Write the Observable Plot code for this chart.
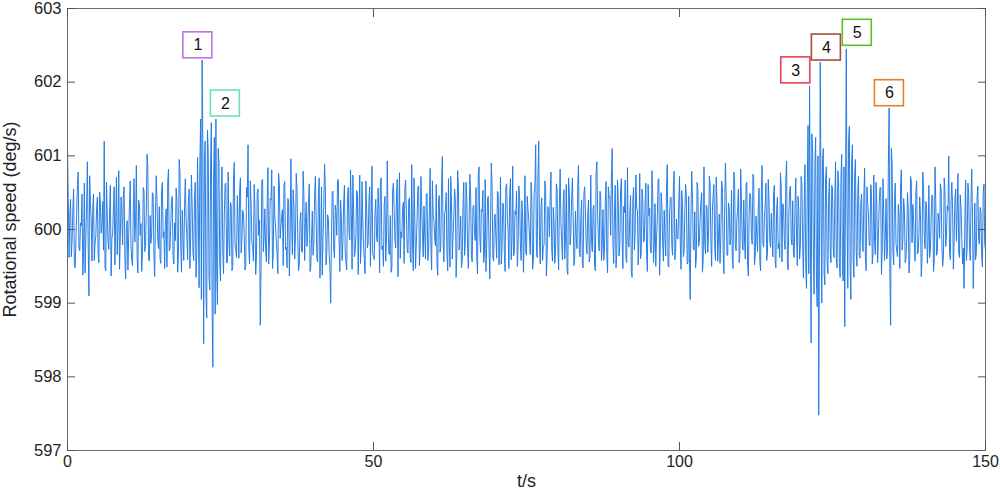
<!DOCTYPE html>
<html><head><meta charset="utf-8">
<script src="https://cdn.jsdelivr.net/npm/d3@7"></script>
<script src="https://cdn.jsdelivr.net/npm/@observablehq/plot@0.6"></script>
<style>body{margin:0;background:#fff}</style>
</head><body><div id="chart"></div>
<script>
// sampling interval of the recorded speed (s)
const sampleInterval = 0.125;
// rotational speed (deg/s) at t = 0, 0.25, 0.5, ... s
const speedEven = [
601.10,599.62,600.41,599.85,600.55,599.48,600.22,600.78,599.71,600.05,599.38,600.63,599.90,600.92,599.10,600.34,599.57,600.48,599.80,600.27,
599.66,600.51,599.95,600.38,601.20,599.44,600.17,599.73,600.60,599.88,600.29,599.52,600.71,600.02,599.46,600.44,599.79,600.58,599.33,600.12,
599.91,600.66,599.58,600.24,599.83,600.87,599.41,600.35,600.08,599.69,600.53,599.77,601.02,599.60,600.19,599.94,600.47,599.36,600.73,599.85,
600.31,599.54,600.64,599.97,600.15,599.49,600.82,599.74,600.40,599.63,600.09,600.56,599.42,600.95,599.81,600.26,599.58,600.69,599.90,600.37,
599.47,600.74,599.68,600.43,599.35,600.98,599.21,601.50,602.30,598.45,601.20,598.80,601.02,599.18,601.45,598.13,601.25,601.50,598.98,600.90,
599.30,600.85,599.40,600.62,599.55,600.78,599.64,600.33,599.50,600.91,599.72,600.46,599.61,600.70,599.86,600.22,599.45,600.57,601.15,599.53,
600.36,599.78,600.61,599.39,600.49,599.92,598.70,600.67,599.70,600.28,599.56,600.84,599.83,600.40,599.47,600.59,600.03,599.65,600.76,599.88,
600.18,599.51,600.65,599.76,600.42,599.37,600.96,599.66,600.30,599.89,600.54,599.44,600.13,599.71,600.79,599.58,600.37,599.95,600.62,599.49,
600.25,599.80,600.72,599.60,600.45,599.34,600.58,599.87,600.89,599.52,600.20,599.67,599.00,600.50,599.73,600.33,599.92,600.68,599.43,600.16,
599.84,600.60,599.55,600.41,599.96,600.81,599.46,600.27,599.69,600.53,599.39,600.74,599.82,600.11,599.59,600.66,599.75,600.38,599.50,600.86,
599.63,600.23,599.90,600.56,599.41,600.70,599.78,600.35,599.57,600.93,599.68,600.19,599.48,600.63,599.85,600.44,599.36,600.77,599.97,600.29,
599.54,600.67,599.74,600.39,599.62,600.88,599.44,600.14,599.81,600.58,599.51,600.72,599.93,600.32,599.60,600.49,599.70,600.83,599.45,600.21,
599.87,600.61,599.38,600.46,599.76,600.99,599.56,600.26,599.66,600.69,599.49,600.37,599.91,600.55,599.35,600.80,599.72,600.18,599.58,600.64,
599.83,600.42,599.47,600.75,599.64,600.30,599.94,600.57,599.40,600.85,599.69,600.24,599.55,600.68,599.79,600.45,599.33,600.90,599.61,600.16,
599.89,600.52,599.52,600.71,599.75,600.34,599.43,600.62,599.97,600.47,599.59,600.86,599.67,600.20,599.50,600.59,599.80,600.39,599.42,600.73,
599.65,600.28,599.86,600.64,599.46,600.50,601.15,599.62,601.20,599.53,600.43,599.77,600.66,599.37,600.31,599.90,600.78,599.57,600.12,599.71,
600.55,599.45,600.82,599.84,600.36,599.60,600.61,599.39,600.48,599.95,600.70,599.51,600.25,599.74,600.87,599.63,600.40,599.48,600.58,599.82,
600.17,599.56,600.74,599.70,600.33,599.44,600.92,599.88,600.52,599.58,600.27,599.73,600.65,599.41,600.44,599.92,601.10,599.54,600.60,599.66,
600.37,599.80,600.69,599.47,600.23,599.61,600.84,599.76,600.46,599.35,600.57,599.93,600.29,599.52,600.76,599.68,600.41,599.86,600.63,599.43,
600.19,599.72,600.80,599.55,600.35,599.90,600.67,599.38,600.50,599.81,600.26,599.64,600.88,599.49,600.43,599.77,600.59,599.59,600.14,599.87,
600.72,599.46,600.32,599.69,600.61,599.53,600.45,599.05,600.79,599.74,600.24,599.61,600.54,599.84,600.38,599.42,600.85,599.67,600.30,599.95,
600.63,599.50,600.47,599.78,600.71,599.57,600.21,599.89,600.58,599.40,600.90,599.65,600.36,599.79,600.53,599.47,600.66,599.71,600.27,599.55,
600.82,599.83,600.40,599.60,600.64,599.37,600.49,599.92,600.75,599.52,600.18,599.70,600.56,599.44,600.87,599.76,600.33,599.58,600.68,599.85,
600.22,599.63,600.60,599.48,600.44,599.81,600.77,599.56,600.31,599.73,600.93,599.45,600.52,599.88,600.39,599.62,600.70,599.51,600.25,599.78,
600.62,599.34,600.88,599.20,601.41,601.95,598.46,601.05,599.12,601.25,598.95,597.48,602.27,599.00,601.10,599.25,600.85,599.40,600.70,599.55,
600.55,599.62,600.92,599.48,600.66,599.35,601.02,599.30,598.68,602.45,599.20,601.40,599.05,601.15,599.35,600.95,599.50,600.72,599.61,600.48,
599.70,600.83,599.44,600.36,599.79,600.61,599.53,600.74,599.66,600.28,599.90,600.57,599.39,600.69,599.58,600.42,599.75,601.65,598.70,600.88,
599.52,600.63,599.71,600.34,599.47,600.81,599.86,600.26,599.60,600.50,599.41,600.72,599.82,600.15,599.57,600.66,599.69,600.44,599.36,600.78,
599.91,600.38,599.54,600.60,599.73,600.47,599.43,600.85,599.65,600.22,599.88,600.55,599.50,600.70,599.77,600.32,601.00,599.59,600.64,599.46,
600.41,599.84,600.76,599.62,600.29,599.53,599.20,600.67,599.74,600.48,599.58,600.82,599.20,600.36,599.67,600.59,599.80,600.25,599.49,600.62,
599.72
];
// rotational speed (deg/s) at t = 0.125, 0.375, 0.625, ... s
const speedOdd = [
600.42,600.18,599.63,600.27,599.52,599.86,600.61,599.74,600.09,600.48,599.69,599.41,600.35,599.80,600.73,600.12,600.30,599.58,599.91,600.44,
599.55,600.36,600.08,599.72,599.49,600.64,599.83,600.21,599.37,599.94,600.58,600.15,599.66,600.80,599.88,600.26,600.47,599.60,600.03,599.45,
600.33,599.78,599.51,600.69,600.11,599.62,600.40,599.92,599.43,600.57,599.70,600.24,600.86,599.57,599.81,600.50,599.64,600.19,600.38,599.74,
599.60,600.52,599.89,599.47,600.28,600.63,599.71,600.06,600.45,599.53,599.85,600.39,599.66,600.77,599.42,599.90,600.31,600.14,599.59,600.55,
599.89,600.31,599.58,600.64,599.71,600.22,600.90,599.05,601.05,600.95,599.10,601.35,599.35,600.85,599.00,600.70,598.85,599.40,601.10,599.55,
600.48,599.72,600.20,600.63,599.55,599.88,600.37,599.44,600.71,599.79,599.62,600.09,600.52,599.68,600.26,599.93,599.50,600.44,599.75,600.66,
599.82,599.57,600.29,599.64,600.55,600.13,599.46,600.68,599.90,599.71,600.34,599.53,600.42,600.81,599.67,600.17,599.84,599.40,600.59,600.05,
600.27,600.61,599.73,599.48,600.39,599.85,600.12,600.54,599.60,600.76,599.91,599.52,600.23,599.69,600.47,600.08,599.77,600.35,599.43,599.87,
599.65,600.44,600.18,599.56,600.70,599.79,599.38,600.31,600.60,599.72,600.15,599.49,599.83,600.52,599.61,600.25,600.67,599.90,600.40,599.58,
600.36,599.70,599.45,600.57,599.86,600.22,600.74,599.63,599.92,600.49,600.10,599.54,600.65,599.77,599.40,600.32,599.81,600.58,600.19,599.68,
599.59,600.41,599.83,600.26,600.62,599.73,599.50,600.45,599.88,600.14,599.66,599.42,600.53,600.29,599.75,600.68,600.07,599.61,599.89,600.37,
600.55,600.20,599.68,600.43,599.55,599.82,600.70,599.47,600.16,600.59,599.74,600.32,599.63,599.91,600.48,599.58,600.24,599.80,600.66,600.11,
599.78,599.52,600.39,599.69,600.61,599.87,600.23,600.50,599.44,599.81,600.72,599.60,600.18,600.42,599.71,600.57,599.93,599.48,600.30,599.65,
600.64,599.74,600.12,600.46,599.56,600.33,599.85,599.62,600.75,599.90,600.27,600.53,599.67,599.43,600.40,599.79,600.09,600.60,599.57,600.21,
599.61,600.49,599.82,599.53,600.36,599.70,600.58,600.17,599.47,600.69,599.88,599.64,600.25,600.52,599.76,600.43,599.58,600.14,599.91,599.69,
600.45,600.13,599.66,600.38,599.60,600.60,599.70,600.75,599.85,600.33,599.58,599.80,600.56,599.66,600.22,600.47,599.72,600.30,599.54,600.62,
599.76,600.35,600.08,599.59,600.54,599.87,599.46,600.70,599.79,600.42,600.17,599.62,599.90,600.60,599.73,600.13,599.55,600.48,600.26,599.67,
600.40,599.63,599.85,600.28,599.52,600.77,600.20,599.71,600.46,599.82,599.58,600.35,599.66,600.58,600.45,600.70,599.80,600.24,599.48,600.67,
599.64,600.52,599.88,600.31,600.67,599.55,599.79,600.18,599.45,600.40,599.72,600.74,600.26,599.91,599.60,600.55,599.83,600.35,599.66,600.61,
600.29,599.68,600.48,599.78,599.50,600.14,600.69,599.83,600.32,599.57,599.90,600.57,599.51,600.21,600.44,599.65,600.79,599.74,599.88,600.36,
599.82,600.53,599.63,600.27,600.44,599.55,599.60,600.20,600.41,599.72,599.48,600.64,599.77,600.16,600.50,599.58,599.81,600.33,599.69,600.72,
599.84,600.25,600.61,599.58,600.39,599.90,599.54,600.66,599.73,600.22,600.47,599.65,600.30,599.88,599.59,600.78,599.79,600.14,600.55,599.66,
600.36,599.72,599.87,600.61,599.53,600.20,600.44,599.80,600.70,599.64,599.91,600.29,599.57,600.52,599.82,600.15,600.63,599.68,600.40,599.76,
599.93,600.48,599.59,600.27,599.74,599.62,600.56,600.35,599.86,600.68,599.55,600.23,600.59,599.79,599.66,600.31,599.90,600.45,599.60,600.72,
599.80,600.35,599.50,600.55,599.40,600.10,601.30,599.60,600.90,599.30,601.00,599.80,600.40,600.95,599.40,600.70,599.55,600.45,599.70,600.60,
599.75,600.40,599.60,600.80,599.55,600.65,599.45,600.85,600.50,600.20,601.20,599.50,600.90,599.60,600.75,599.70,600.50,599.65,600.35,599.80,
600.45,599.62,600.58,600.22,599.78,600.49,599.67,599.85,600.64,599.55,600.31,600.57,599.73,600.19,599.90,599.60,600.85,599.40,601.10,599.70,
600.38,599.81,599.63,600.16,600.59,599.72,600.42,599.55,599.88,600.27,599.61,600.66,600.34,599.79,600.51,599.67,599.92,600.20,599.58,600.57,
599.74,600.29,599.86,599.62,600.18,600.45,599.57,600.38,599.69,600.14,600.62,599.80,599.64,600.53,599.91,600.26,599.70,600.40,600.28,599.85,
600.55,600.22,599.68,600.47,599.89,599.75,600.10,599.58,600.63,599.81,600.35,600.15,599.70,599.59,600.44,599.87,600.30,599.64,600.51,599.80
];
const xTicks = [0, 50, 100, 150];
const yTicks = [597, 598, 599, 600, 601, 602, 603];
// numbered event markers
const markerLabels = ["1", "2", "3", "4", "5", "6"];
const markerT = [21.3, 25.8, 119.0, 124.0, 129.05, 134.3];
const markerV = [602.50, 601.71, 602.16, 602.47, 602.67, 601.85];
const markerColors = ["#c072e6", "#6fe0b6", "#e8405c", "#a24f3e", "#5cbf2c", "#e2802e"];

const W = 1000, H = 496, mL = 67, mR = 15, mT = 8, mB = 46;
const boxWpx = 29, boxHpx = 26;
const xDom = [0, 150], yDom = [597, 603];
const halfW = boxWpx / 2 * (xDom[1] - xDom[0]) / (W - mL - mR);
const halfH = boxHpx / 2 * (yDom[1] - yDom[0]) / (H - mT - mB);

// interleave the two sample sets into one time series
const series = [];
speedEven.forEach((v, i) => {
  series.push({t: 2 * i * sampleInterval, v});
  if (i < speedOdd.length) series.push({t: (2 * i + 1) * sampleInterval, v: speedOdd[i]});
});
const markers = markerLabels.map((l, i) => ({label: l, t: markerT[i], v: markerV[i], color: markerColors[i]}));

const font = "'Liberation Sans', Arial, Helvetica, sans-serif";
const chart = Plot.plot({
  width: W, height: H,
  marginLeft: mL, marginRight: mR, marginTop: mT, marginBottom: mB,
  style: {fontFamily: font, fontSize: "16px", color: "#222", background: "#fff"},
  x: {domain: xDom},
  y: {domain: yDom},
  marks: [
    Plot.lineY(series, {x: "t", y: "v", stroke: "#1f78e3", strokeWidth: 0.95}),
    Plot.frame({stroke: "#6a6a6a", strokeWidth: 1}),
    Plot.axisX(xTicks, {anchor: "bottom", tickSize: -8, text: null, label: null, stroke: "#555"}),
    Plot.axisX(xTicks, {anchor: "top", tickSize: -8, text: null, label: null, stroke: "#555"}),
    Plot.axisY(yTicks, {anchor: "left", tickSize: -8, text: null, label: null, stroke: "#555"}),
    Plot.axisY(yTicks, {anchor: "right", tickSize: -8, text: null, label: null, stroke: "#555"}),
    Plot.axisX(xTicks, {anchor: "bottom", tickSize: 0, tickPadding: 5, label: null, tickFormat: "d", fontSize: 16, fill: "#222"}),
    Plot.axisY(yTicks, {anchor: "left", tickSize: 0, tickPadding: 6, label: null, tickFormat: "d", fontSize: 16.5, fill: "#222"}),
    Plot.text(["t/s"], {frameAnchor: "bottom", dy: 36, text: d => d, fontSize: 18, fill: "#222"}),
    Plot.text(["Rotational speed (deg/s)"], {frameAnchor: "left", dx: -57, dy: -10, rotate: -90, textAnchor: "middle", text: d => d, fontSize: 18, fill: "#222"}),
    Plot.rect(markers, {x1: d => d.t - halfW, x2: d => d.t + halfW, y1: d => d.v - halfH, y2: d => d.v + halfH, fill: "#fff", stroke: d => d.color, strokeWidth: 1.6}),
    Plot.text(markers, {x: "t", y: "v", text: "label", fontSize: 16, fill: "#111"})
  ]
});
document.getElementById("chart").appendChild(chart);
</script>
</body></html>
